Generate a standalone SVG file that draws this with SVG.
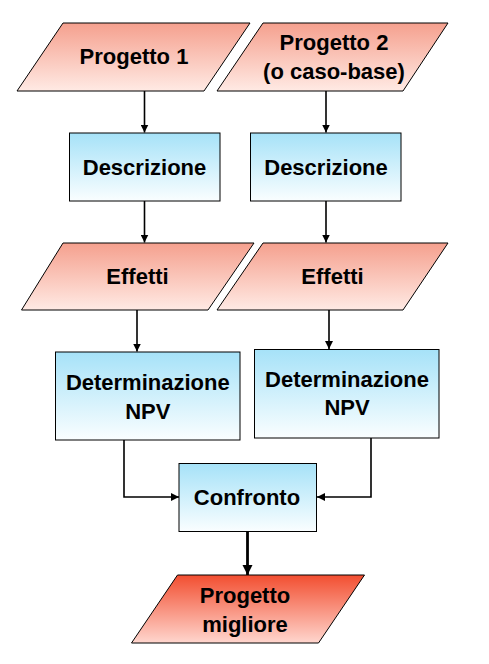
<svg xmlns="http://www.w3.org/2000/svg" width="489" height="664" viewBox="0 0 489 664">
<defs>
<linearGradient id="pink" x1="0" y1="0" x2="0" y2="1">
<stop offset="0" stop-color="#F5A08E"/>
<stop offset="1" stop-color="#FFEAE4"/>
</linearGradient>
<linearGradient id="red" x1="0" y1="0" x2="0" y2="1">
<stop offset="0" stop-color="#F24E30"/>
<stop offset="1" stop-color="#FFD6CE"/>
</linearGradient>
<linearGradient id="blue" x1="0" y1="0" x2="0" y2="1">
<stop offset="0" stop-color="#A6E2F8"/>
<stop offset="1" stop-color="#FAFEFF"/>
</linearGradient>
<marker id="ah" viewBox="0 0 10 10" refX="10" refY="5" markerWidth="5" markerHeight="5" orient="auto" markerUnits="strokeWidth">
<path d="M0,0 L10,5 L0,10 z" fill="#000"/>
</marker>
<marker id="ah2" viewBox="0 0 10 10" refX="10" refY="5" markerWidth="3.6" markerHeight="3.6" orient="auto" markerUnits="strokeWidth">
<path d="M0,0 L10,5 L0,10 z" fill="#000"/>
</marker>
</defs>
<style>
.io{fill:url(#pink);stroke:#000;stroke-width:1}
.io2{fill:url(#red);stroke:#000;stroke-width:1}
.pr{fill:url(#blue);stroke:#000;stroke-width:1}
text{font-family:"Liberation Sans",Arial,sans-serif;font-weight:bold;font-size:22px;fill:#000;text-anchor:middle}
.c{fill:none;stroke:#000;stroke-width:1.6;marker-end:url(#ah)}
.c2{fill:none;stroke:#000;stroke-width:2.8;marker-end:url(#ah2)}
</style>
<rect width="489" height="664" fill="#fff"/>
<g id="connectors">
<path class="c" d="M144.5,91 V132.5"/>
<path class="c" d="M326,91 V132.5"/>
<path class="c" d="M144.5,201 V242.5"/>
<path class="c" d="M326,201 V242.5"/>
<path class="c" d="M137,310 V351.5"/>
<path class="c" d="M329,310 V349"/>
<path class="c" d="M124,440 V497 H179"/>
<path class="c" d="M371,438 V497 H317"/>
<path class="c2" d="M247.5,532 V575"/>
</g>
<g id="progetto1">
<polygon class="io" points="63,23 250,23 204,91 17,91"/>
<text x="134" y="64">Progetto 1</text>
</g>
<g id="progetto2">
<polygon class="io" points="263,23 448,23 403,91 217,91"/>
<text x="334" y="50">Progetto 2</text>
<text x="334" y="79">(o caso-base)</text>
</g>
<g id="descrizione1">
<rect class="pr" x="69.5" y="133" width="150.5" height="68"/>
<text x="144.5" y="175">Descrizione</text>
</g>
<g id="descrizione2">
<rect class="pr" x="250.5" y="133" width="150.5" height="68"/>
<text x="326" y="175">Descrizione</text>
</g>
<g id="effetti1">
<polygon class="io" points="63,243 254,243 208,310 21.5,310"/>
<text x="137.5" y="284">Effetti</text>
</g>
<g id="effetti2">
<polygon class="io" points="263,243 448,243 403,310 217,310"/>
<text x="332.5" y="284">Effetti</text>
</g>
<g id="npv1">
<rect class="pr" x="55.5" y="352" width="184.5" height="88"/>
<text x="147.8" y="390">Determinazione</text>
<text x="147.8" y="419">NPV</text>
</g>
<g id="npv2">
<rect class="pr" x="254.5" y="349.5" width="184.5" height="88.5"/>
<text x="347" y="387">Determinazione</text>
<text x="347" y="415">NPV</text>
</g>
<g id="confronto">
<rect class="pr" x="179" y="463.5" width="137.5" height="68"/>
<text x="247" y="505">Confronto</text>
</g>
<g id="migliore">
<polygon class="io2" points="177.5,575 364.5,575 318.5,643 131.5,643"/>
<text x="245" y="603">Progetto</text>
<text x="245" y="632">migliore</text>
</g>
</svg>
